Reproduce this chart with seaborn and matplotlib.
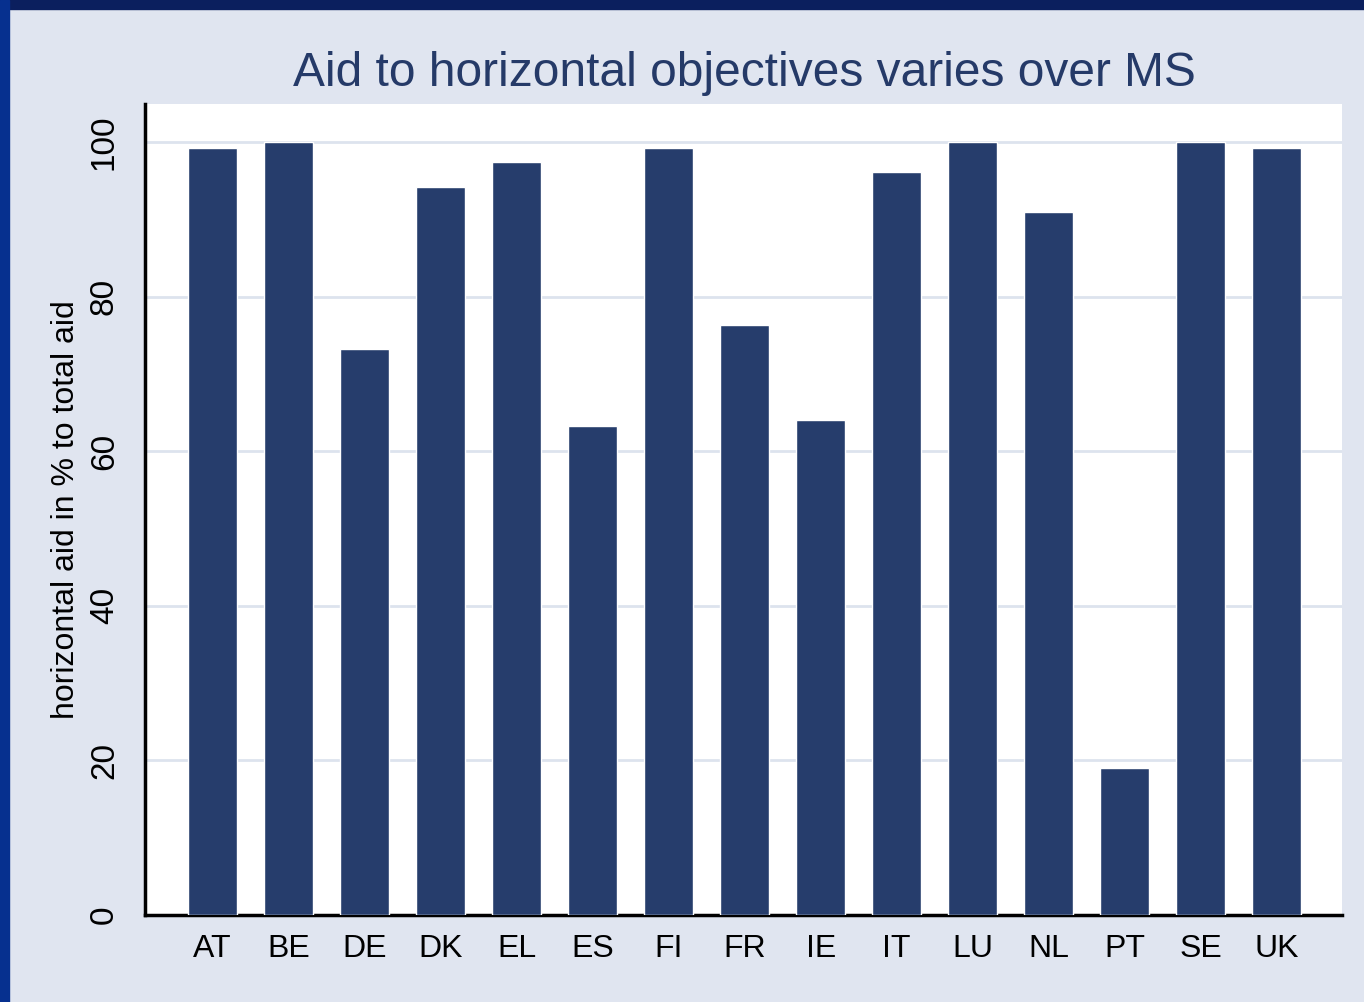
import numpy as np
import pandas as pd
import matplotlib
matplotlib.use("Agg")
import matplotlib.pyplot as plt
import seaborn as sns
from matplotlib.patches import Rectangle

countries = ["AT", "BE", "DE", "DK", "EL", "ES", "FI", "FR", "IE", "IT", "LU", "NL", "PT", "SE", "UK"]
horizontal_share = [99.2, 100, 73.2, 94.2, 97.4, 63.3, 99.2, 76.3, 64.0, 96.1, 100, 90.9, 19.0, 100, 99.2]
y_ticks = [0, 20, 40, 60, 80, 100]

bar_color = "#263d6c"
bg_color = "#e0e5f0"
grid_color = "#dde3ee"

df = pd.DataFrame({"ms": countries, "share": horizontal_share})

sns.set_style("white")
plt.rcParams["font.family"] = ["Liberation Sans", "DejaVu Sans"]

fig = plt.figure(figsize=(13.64, 10.02), dpi=100, facecolor=bg_color)
ax = fig.add_axes([0.1063, 0.0868, 0.8776, 0.8094])
ax.set_facecolor("white")

sns.barplot(data=df, x="ms", y="share", color=bar_color, width=0.64,
            saturation=1, ax=ax, zorder=3)

ax.set_xlim(-0.89, len(countries) - 1 + 0.86)
ax.set_ylim(0, 104.9)
ax.set_yticks(y_ticks)
ax.set_yticklabels([str(t) for t in y_ticks], rotation=90, va="center", fontsize=24)
ax.tick_params(axis="x", length=0, labelsize=23, pad=14, labelcolor="black")
ax.tick_params(axis="y", length=12, width=2.5, pad=6, labelcolor="black")
for t in y_ticks[1:]:
    ax.axhline(t, color=grid_color, lw=2, zorder=1)

for side in ["top", "right"]:
    ax.spines[side].set_visible(False)
for side in ["left", "bottom"]:
    ax.spines[side].set_linewidth(2.5)
    ax.spines[side].set_color("black")

ax.set_xlabel("")
ax.set_ylabel("horizontal aid in % to total aid", fontsize=23, labelpad=6, color="black")
fig.text(0.546, 0.927, "Aid to horizontal objectives varies over MS",
         ha="center", va="center", fontsize=34.5, color="#253a68")

# dark slide frame on top and left
fig.patches.append(Rectangle((0, 0.991), 1, 0.009, transform=fig.transFigure,
                             color="#0b1f5e", zorder=0))
fig.patches.append(Rectangle((0, 0), 0.0066, 1, transform=fig.transFigure,
                             color="#06308f", zorder=0))

fig.savefig("out.png", dpi=100, facecolor=bg_color)
plt.close()
